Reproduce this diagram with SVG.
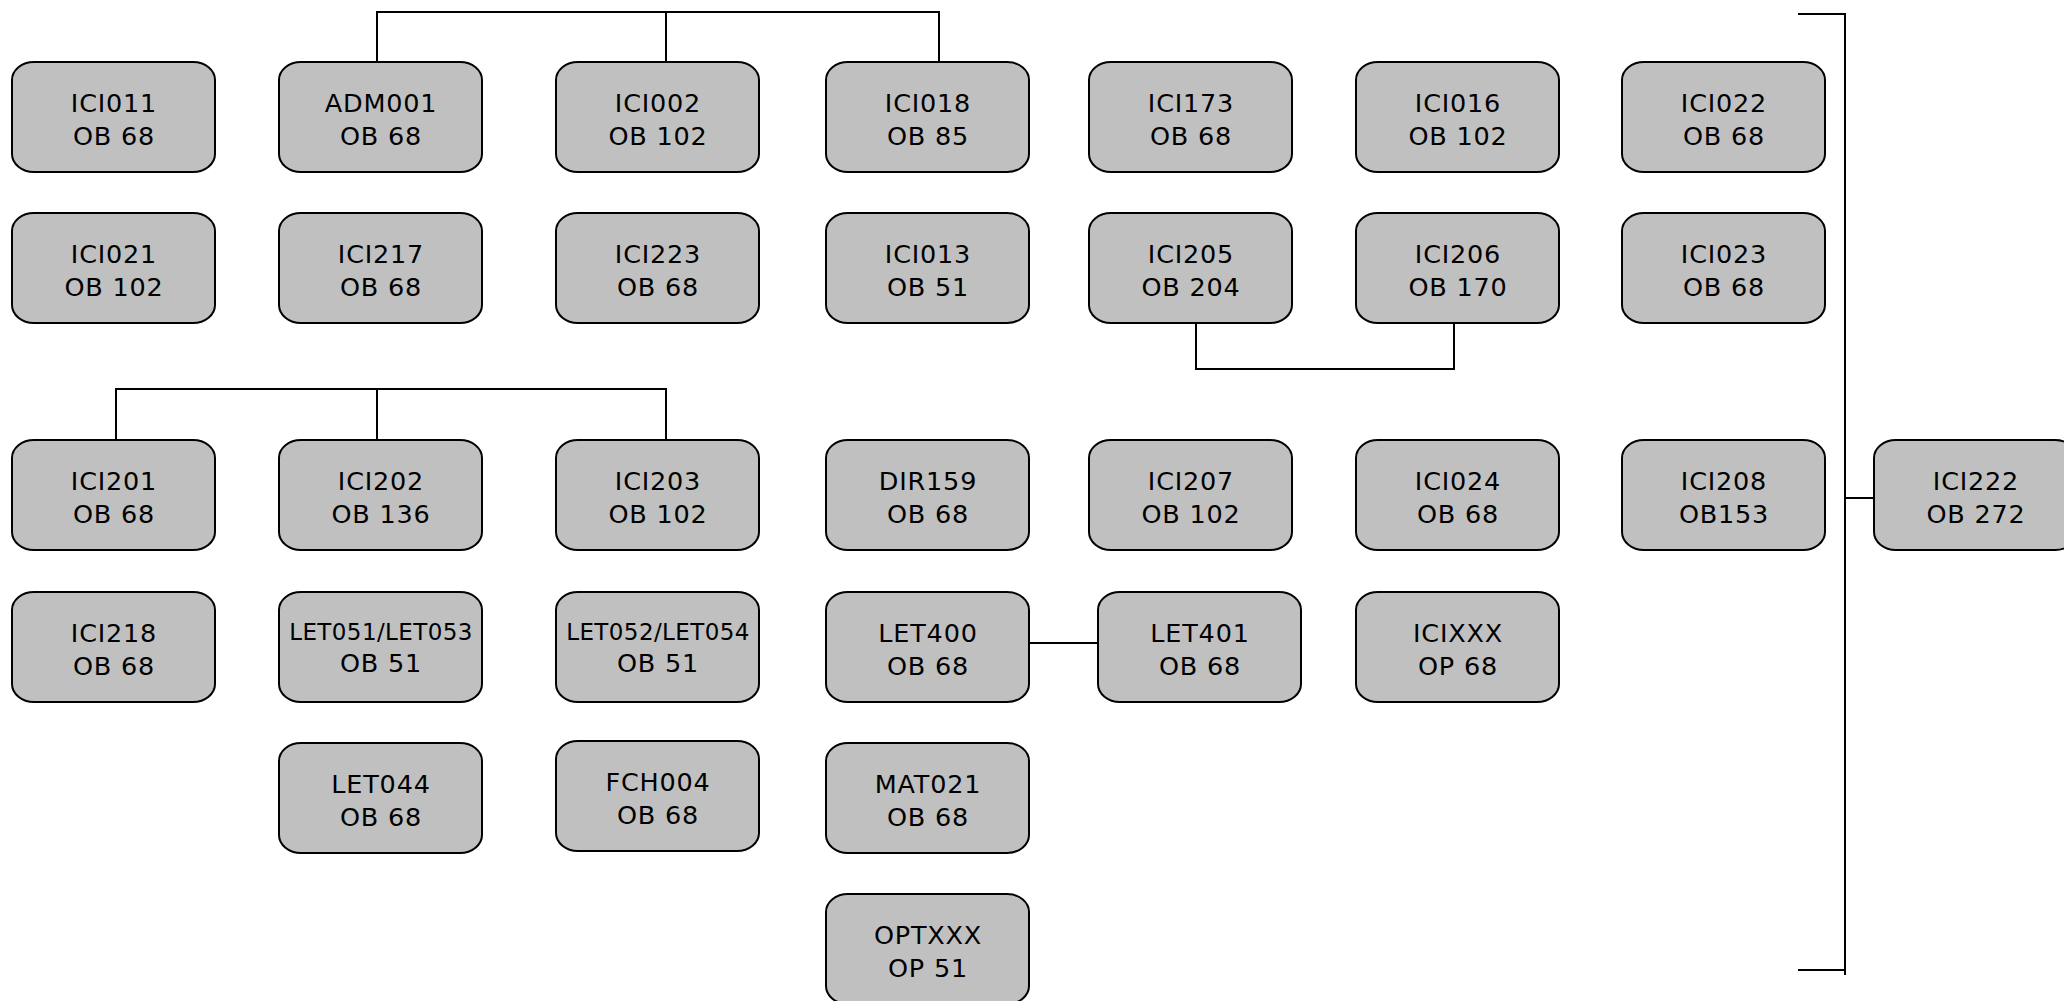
<svg xmlns="http://www.w3.org/2000/svg" width="2064" height="1001" viewBox="0 0 2064 1001">
<style>
.b{fill:#c0c0c0;stroke:#000;stroke-width:2}
.t{font-family:"DejaVu Sans","Liberation Sans",sans-serif;font-size:25.5px;letter-spacing:0.8px;fill:#000;text-anchor:middle}
.s{font-size:23px;letter-spacing:0.4px}
.c{fill:none;stroke:#000;stroke-width:2}
</style>
<rect width="2064" height="1001" fill="#fff"/>
<g id="connectors">
<path class="c" d="M377,62 V12 H939 V62 M666,12 V62"/>
<path class="c" d="M116,440 V389 H666 V440 M377,389 V440"/>
<path class="c" d="M1196,323 V369 H1454 V323"/>
<path class="c" d="M1029,643 H1098"/>
<path class="c" d="M1798,14 H1845 V975 M1798,970 H1845 M1845,498 H1881"/>
</g>
<g id="ICI011"><rect class="b" x="12" y="62" width="203" height="110" rx="22" ry="18"/><text class="t" x="114" y="112">ICI011</text><text class="t" x="114" y="145">OB 68</text></g>
<g id="ADM001"><rect class="b" x="279" y="62" width="203" height="110" rx="22" ry="18"/><text class="t" x="381" y="112">ADM001</text><text class="t" x="381" y="145">OB 68</text></g>
<g id="ICI002"><rect class="b" x="556" y="62" width="203" height="110" rx="22" ry="18"/><text class="t" x="658" y="112">ICI002</text><text class="t" x="658" y="145">OB 102</text></g>
<g id="ICI018"><rect class="b" x="826" y="62" width="203" height="110" rx="22" ry="18"/><text class="t" x="928" y="112">ICI018</text><text class="t" x="928" y="145">OB 85</text></g>
<g id="ICI173"><rect class="b" x="1089" y="62" width="203" height="110" rx="22" ry="18"/><text class="t" x="1191" y="112">ICI173</text><text class="t" x="1191" y="145">OB 68</text></g>
<g id="ICI016"><rect class="b" x="1356" y="62" width="203" height="110" rx="22" ry="18"/><text class="t" x="1458" y="112">ICI016</text><text class="t" x="1458" y="145">OB 102</text></g>
<g id="ICI022"><rect class="b" x="1622" y="62" width="203" height="110" rx="22" ry="18"/><text class="t" x="1724" y="112">ICI022</text><text class="t" x="1724" y="145">OB 68</text></g>
<g id="ICI021"><rect class="b" x="12" y="213" width="203" height="110" rx="22" ry="18"/><text class="t" x="114" y="263">ICI021</text><text class="t" x="114" y="296">OB 102</text></g>
<g id="ICI217"><rect class="b" x="279" y="213" width="203" height="110" rx="22" ry="18"/><text class="t" x="381" y="263">ICI217</text><text class="t" x="381" y="296">OB 68</text></g>
<g id="ICI223"><rect class="b" x="556" y="213" width="203" height="110" rx="22" ry="18"/><text class="t" x="658" y="263">ICI223</text><text class="t" x="658" y="296">OB 68</text></g>
<g id="ICI013"><rect class="b" x="826" y="213" width="203" height="110" rx="22" ry="18"/><text class="t" x="928" y="263">ICI013</text><text class="t" x="928" y="296">OB 51</text></g>
<g id="ICI205"><rect class="b" x="1089" y="213" width="203" height="110" rx="22" ry="18"/><text class="t" x="1191" y="263">ICI205</text><text class="t" x="1191" y="296">OB 204</text></g>
<g id="ICI206"><rect class="b" x="1356" y="213" width="203" height="110" rx="22" ry="18"/><text class="t" x="1458" y="263">ICI206</text><text class="t" x="1458" y="296">OB 170</text></g>
<g id="ICI023"><rect class="b" x="1622" y="213" width="203" height="110" rx="22" ry="18"/><text class="t" x="1724" y="263">ICI023</text><text class="t" x="1724" y="296">OB 68</text></g>
<g id="ICI201"><rect class="b" x="12" y="440" width="203" height="110" rx="22" ry="18"/><text class="t" x="114" y="490">ICI201</text><text class="t" x="114" y="523">OB 68</text></g>
<g id="ICI202"><rect class="b" x="279" y="440" width="203" height="110" rx="22" ry="18"/><text class="t" x="381" y="490">ICI202</text><text class="t" x="381" y="523">OB 136</text></g>
<g id="ICI203"><rect class="b" x="556" y="440" width="203" height="110" rx="22" ry="18"/><text class="t" x="658" y="490">ICI203</text><text class="t" x="658" y="523">OB 102</text></g>
<g id="DIR159"><rect class="b" x="826" y="440" width="203" height="110" rx="22" ry="18"/><text class="t" x="928" y="490">DIR159</text><text class="t" x="928" y="523">OB 68</text></g>
<g id="ICI207"><rect class="b" x="1089" y="440" width="203" height="110" rx="22" ry="18"/><text class="t" x="1191" y="490">ICI207</text><text class="t" x="1191" y="523">OB 102</text></g>
<g id="ICI024"><rect class="b" x="1356" y="440" width="203" height="110" rx="22" ry="18"/><text class="t" x="1458" y="490">ICI024</text><text class="t" x="1458" y="523">OB 68</text></g>
<g id="ICI208"><rect class="b" x="1622" y="440" width="203" height="110" rx="22" ry="18"/><text class="t" x="1724" y="490">ICI208</text><text class="t" x="1724" y="523">OB153</text></g>
<g id="ICI222"><rect class="b" x="1874" y="440" width="203" height="110" rx="22" ry="18"/><text class="t" x="1976" y="490">ICI222</text><text class="t" x="1976" y="523">OB 272</text></g>
<g id="ICI218"><rect class="b" x="12" y="592" width="203" height="110" rx="22" ry="18"/><text class="t" x="114" y="642">ICI218</text><text class="t" x="114" y="675">OB 68</text></g>
<g id="LET051"><rect class="b" x="279" y="592" width="203" height="110" rx="22" ry="18"/><text class="t s" x="381" y="640">LET051/LET053</text><text class="t" x="381" y="672">OB 51</text></g>
<g id="LET052"><rect class="b" x="556" y="592" width="203" height="110" rx="22" ry="18"/><text class="t s" x="658" y="640">LET052/LET054</text><text class="t" x="658" y="672">OB 51</text></g>
<g id="LET400"><rect class="b" x="826" y="592" width="203" height="110" rx="22" ry="18"/><text class="t" x="928" y="642">LET400</text><text class="t" x="928" y="675">OB 68</text></g>
<g id="LET401"><rect class="b" x="1098" y="592" width="203" height="110" rx="22" ry="18"/><text class="t" x="1200" y="642">LET401</text><text class="t" x="1200" y="675">OB 68</text></g>
<g id="ICIXXX"><rect class="b" x="1356" y="592" width="203" height="110" rx="22" ry="18"/><text class="t" x="1458" y="642">ICIXXX</text><text class="t" x="1458" y="675">OP 68</text></g>
<g id="LET044"><rect class="b" x="279" y="743" width="203" height="110" rx="22" ry="18"/><text class="t" x="381" y="793">LET044</text><text class="t" x="381" y="826">OB 68</text></g>
<g id="FCH004"><rect class="b" x="556" y="741" width="203" height="110" rx="22" ry="18"/><text class="t" x="658" y="791">FCH004</text><text class="t" x="658" y="824">OB 68</text></g>
<g id="MAT021"><rect class="b" x="826" y="743" width="203" height="110" rx="22" ry="18"/><text class="t" x="928" y="793">MAT021</text><text class="t" x="928" y="826">OB 68</text></g>
<g id="OPTXXX"><rect class="b" x="826" y="894" width="203" height="110" rx="22" ry="18"/><text class="t" x="928" y="944">OPTXXX</text><text class="t" x="928" y="977">OP 51</text></g>
</svg>
